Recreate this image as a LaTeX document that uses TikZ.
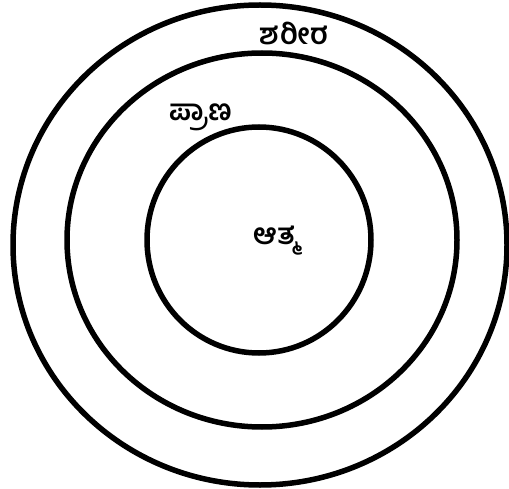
\documentclass[tikz,border=0pt]{standalone}
\usepackage{fontspec}
\newfontfamily\kn[Script=Kannada]{Hind Mysuru}
\begin{document}
\begin{tikzpicture}[x=1pt,y=-1pt,
  ring/.style={draw=black,line width=5.5pt},
  lbl/.style={font=\kn\bfseries\fontsize{29}{34}\selectfont,inner sep=0pt}]
\useasboundingbox (0,0) rectangle (509,489);
\draw[ring] (260,245) ellipse [x radius=247, y radius=240];
\draw[ring] (262,240) ellipse [x radius=195, y radius=187];
\draw[ring] (259,240) ellipse [x radius=112, y radius=113];
\node[lbl] (sharira) at (294,33) {ಶರೀರ};
\node[lbl] (prana) at (201,117) {ಪ್ರಾಣ};
\node[lbl] (atma) at (276,241) {ಆತ್ಮ};
\end{tikzpicture}
\end{document}
